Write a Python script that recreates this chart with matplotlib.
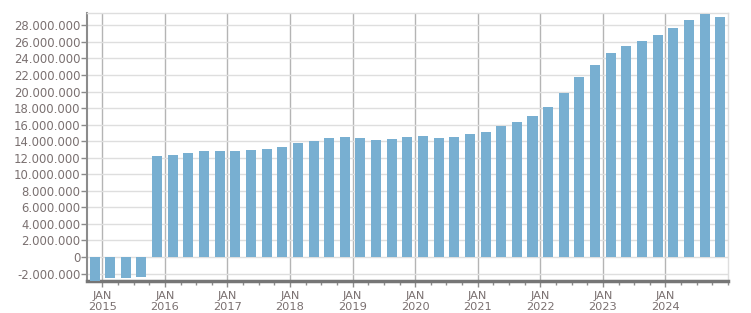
import matplotlib
matplotlib.use("Agg")
import matplotlib.pyplot as plt
from matplotlib.ticker import FuncFormatter, MultipleLocator, FixedLocator

# Quarterly values (millions), first bar Q4 2014 .. last Q4 2024
periods = [f"{y}Q{q}" for y in range(2014, 2025) for q in range(1, 5)][3:]
values_m = [-2.85, -2.5, -2.5, -2.38, 12.24, 12.36, 12.6, 12.85, 12.85, 12.85,
            12.93, 13.05, 13.29, 13.78, 14.02, 14.38, 14.5, 14.38, 14.14, 14.26,
            14.5, 14.62, 14.38, 14.5, 14.86, 15.1, 15.83, 16.31, 17.04, 18.13,
            19.82, 21.75, 23.2, 24.65, 25.5, 26.1, 26.83, 27.67, 28.64, 29.36, 29.0]
values = [v * 1e6 for v in values_m]
year_ticks = list(range(2015, 2025))
year_labels = [f"JAN\n{y}" for y in year_ticks]

# x position: middle of each quarter
xpos = [int(p[:4]) + (int(p[-1]) - 1) * 0.25 + 0.125 for p in periods]

txt = "#7a7070"
fig = plt.figure(figsize=(7.51, 3.13), dpi=100)
ax = fig.add_axes([0.1163, 0.1022, 0.9694 - 0.1163, 0.9575 - 0.1022])

ax.bar(xpos, values, width=0.16, color="#78afd1", zorder=3)

ax.set_xlim(2014.76, 2025.0)
ax.set_ylim(-2.9e6, 29.45e6)
ax.yaxis.set_major_locator(MultipleLocator(2e6))
ax.yaxis.set_major_formatter(FuncFormatter(lambda v, p: f"{int(round(v)):,}".replace(",", ".")))
ax.xaxis.set_major_locator(FixedLocator(year_ticks))
ax.set_xticklabels(year_labels)
ax.xaxis.set_minor_locator(MultipleLocator(0.25))

ax.grid(axis="y", color="#dedede", linewidth=1, zorder=0)
ax.grid(axis="x", which="major", color="#b4b4b4", linewidth=1, zorder=0)

for s in ["top", "right"]:
    ax.spines[s].set_color("#dedede")
    ax.spines[s].set_linewidth(1)
ax.spines["left"].set_color("#8c8c8c")
ax.spines["left"].set_linewidth(1.5)
ax.spines["bottom"].set_color("#767676")
ax.spines["bottom"].set_linewidth(2.5)

ax.tick_params(axis="y", direction="out", length=4, width=1, color="#8c8c8c",
               labelsize=8.4, labelcolor=txt, pad=1)
ax.tick_params(axis="x", which="major", direction="out", length=4, width=1, color="#8c8c8c",
               labelsize=8.2, labelcolor=txt, pad=3)
ax.tick_params(axis="x", which="minor", direction="out", length=3, width=1, color="#8c8c8c")
for lab in ax.get_xticklabels():
    lab.set_linespacing(1.2)

fig.savefig("out.png", dpi=100)
